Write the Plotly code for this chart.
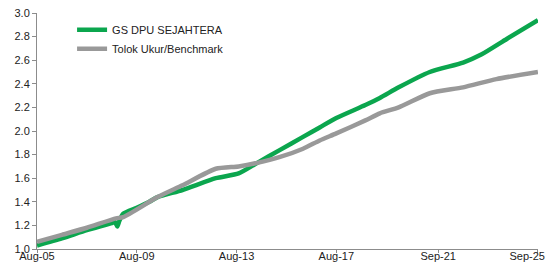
import plotly.graph_objects as go

green_dates = ["2005-08-01", "2006-08-01", "2007-08-01", "2008-08-01", "2008-09-15",
               "2008-10-20", "2008-11-20", "2009-01-15", "2009-08-01", "2010-02-01",
               "2010-06-01", "2011-06-01", "2012-10-01", "2013-09-01", "2014-06-01",
               "2015-05-01", "2016-04-01", "2016-12-01", "2017-08-01", "2018-10-01",
               "2019-05-01", "2020-02-01", "2021-05-01", "2022-09-01", "2023-06-01",
               "2024-06-01", "2025-09-01"]
green_vals = [1.03, 1.09, 1.16, 1.22, 1.23,
              1.19, 1.24, 1.30, 1.35, 1.40,
              1.44, 1.50, 1.60, 1.64, 1.73,
              1.84, 1.95, 2.03, 2.11, 2.22,
              2.28, 2.37, 2.50, 2.58, 2.65,
              2.78, 2.94]

gray_dates = ["2005-08-01", "2006-08-01", "2007-08-01", "2008-10-01", "2009-01-15",
              "2010-06-01", "2011-06-01", "2012-10-01", "2013-09-01", "2014-06-01",
              "2015-05-01", "2016-04-01", "2016-12-01", "2017-08-01", "2018-10-01",
              "2019-05-01", "2020-02-01", "2021-05-01", "2022-09-01", "2024-01-01",
              "2025-09-01"]
gray_vals = [1.06, 1.12, 1.18, 1.26, 1.27,
             1.44, 1.54, 1.68, 1.70, 1.73,
             1.78, 1.85, 1.92, 1.98, 2.09,
             2.15, 2.20, 2.32, 2.37, 2.44,
             2.50]

tick_dates = ["2005-08-01", "2009-08-01", "2013-08-01", "2017-08-01", "2021-09-01", "2025-09-01"]
tick_labels = ["Aug-05", "Aug-09", "Aug-13", "Aug-17", "Sep-21", "Sep-25"]

# the last label sits at the window edge; pad it so it stays readable
display_labels = tick_labels[:-1] + [tick_labels[-1] + "&nbsp;" * 7]

fig = go.Figure()
fig.add_trace(go.Scatter(x=green_dates, y=green_vals, mode="lines", name="GS DPU SEJAHTERA",
                         line=dict(color="#0BA64E", width=4.5, shape="spline", smoothing=0.6)))
fig.add_trace(go.Scatter(x=gray_dates, y=gray_vals, mode="lines", name="Tolok Ukur/Benchmark",
                         line=dict(color="#999999", width=4.5, shape="spline", smoothing=0.6)))

axis_common = dict(showgrid=False, zeroline=False, showline=True, linecolor="#8C8C8C",
                   linewidth=1, ticks="outside", tickcolor="#8C8C8C",
                   automargin=False, ticklabeloverflow="allow",
                   tickfont=dict(family="Liberation Sans, Arial", size=11, color="#222222"))

fig.update_xaxes(type="date", range=["2005-08-01", "2025-09-02"], tickvals=tick_dates,
                 ticktext=display_labels, ticklen=3, ticklabelstandoff=-6, **axis_common)
fig.update_yaxes(range=[1.0, 3.0], dtick=0.2, tickformat=".1f", ticklen=4, **axis_common)

# page body has an 8px default margin, so the figure is sized to fit the window
fig.update_layout(
    width=546, height=257,
    margin=dict(l=29, r=16, t=5, b=16),
    paper_bgcolor="white", plot_bgcolor="white",
    showlegend=True,
    legend=dict(x=0.07, y=0.99, xanchor="left", yanchor="top", bgcolor="rgba(0,0,0,0)",
                font=dict(family="Liberation Sans, Arial", size=11, color="#222222"),
                tracegroupgap=0, itemwidth=30),
)

fig.write_html("out.html")
